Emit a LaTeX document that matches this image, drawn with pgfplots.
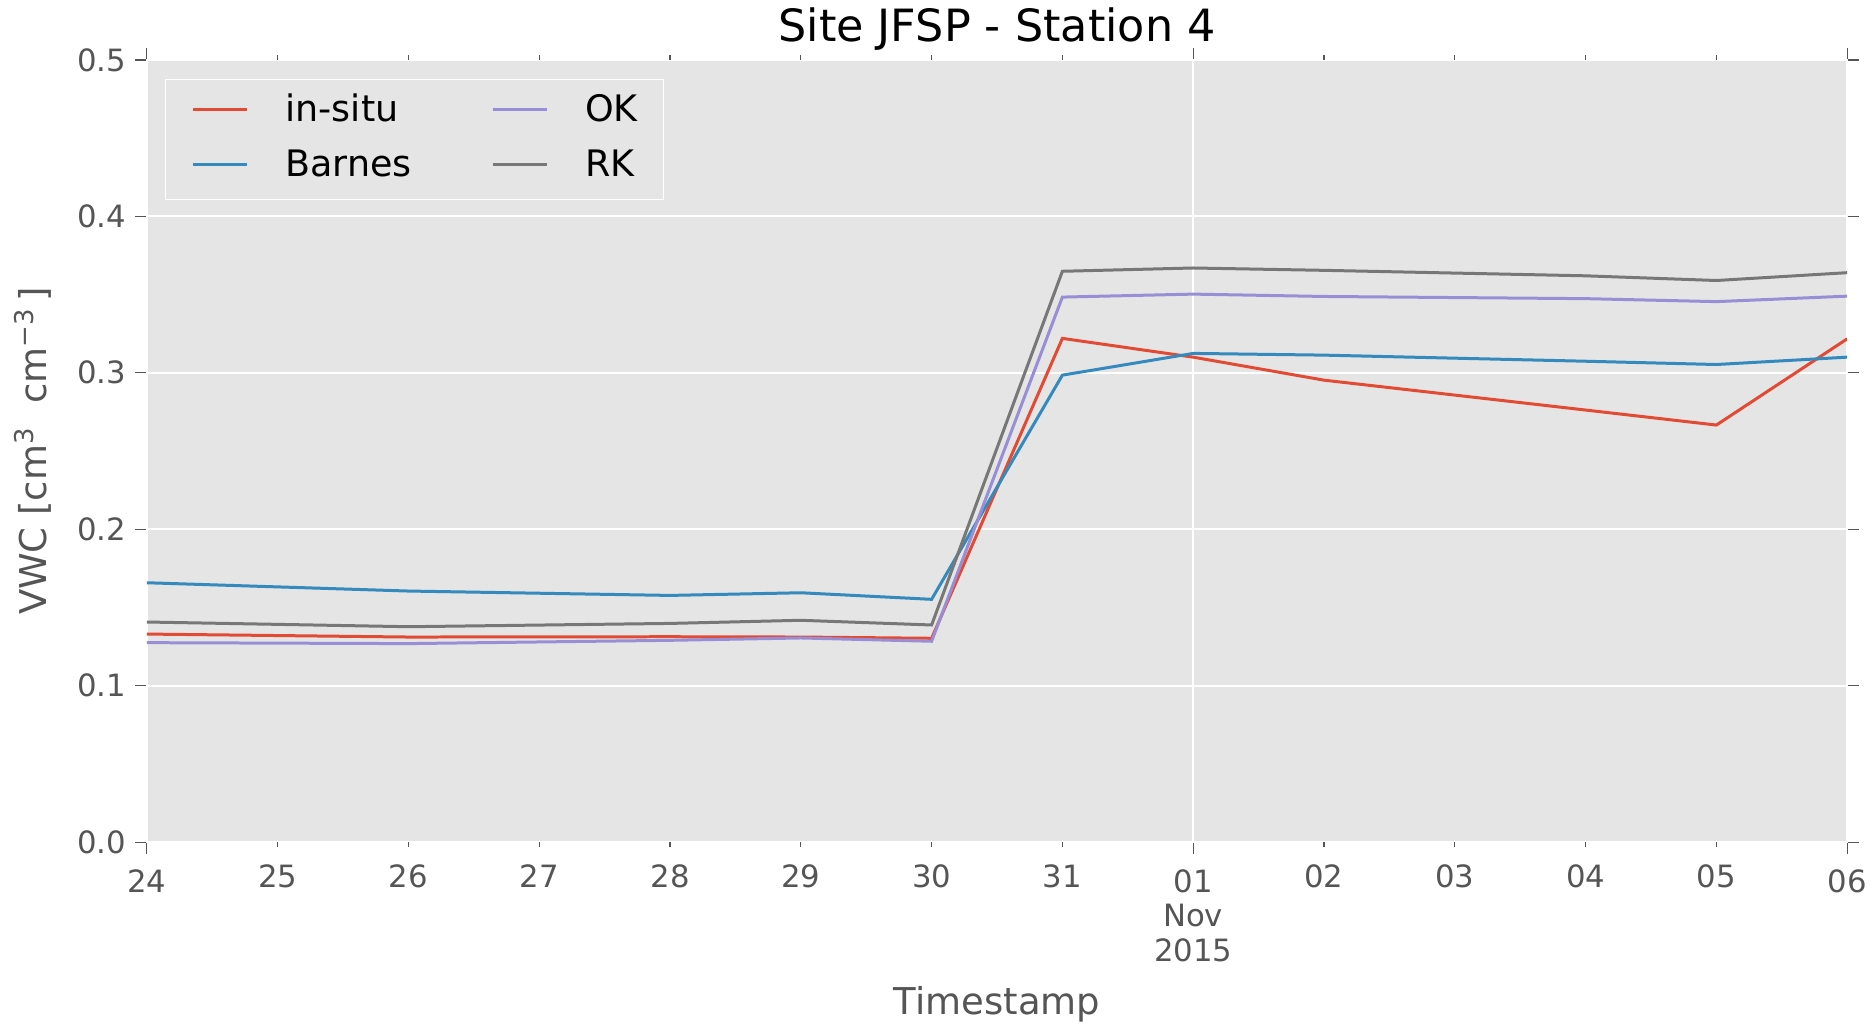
\documentclass[border=0pt]{standalone}
\usepackage{fontspec}
\setmainfont{DejaVu Sans}
\usepackage{pgfplots}
\pgfplotsset{compat=1.18}
\definecolor{axbg}{HTML}{E5E5E5}
\definecolor{cred}{HTML}{E24A33}
\definecolor{cblue}{HTML}{348ABD}
\definecolor{cpurple}{HTML}{988ED5}
\definecolor{cgray}{HTML}{777777}
\definecolor{tickgray}{HTML}{555555}
\begin{document}
\begin{tikzpicture}
\begin{axis}[
  scale only axis, width=680.8pt, height=313.2pt,
  xmin=0, xmax=13, ymin=0, ymax=0.5,
  axis background/.style={fill=axbg},
  axis line style={draw=white, line width=0.8pt},
  tick align=outside,
  major tick length=4.7pt,
  every tick/.style={draw=tickgray, line width=0.5pt},
  xtick={0,8,13},
  xticklabels={24,{01\\Nov\\2015},06},
  xticklabel style={align=center, font=\fontsize{12.3}{13.8}\selectfont, text=tickgray, yshift=-2.8pt},
  extra x ticks={1,2,3,4,5,6,7,9,10,11,12},
  extra x tick labels={25,26,27,28,29,30,31,02,03,04,05},
  extra x tick style={major tick length=2pt, grid=none, xticklabel style={yshift=-0.8pt}},
  xmajorgrids, ymajorgrids,
  grid style={white, line width=0.8pt},
  ytick={0,0.1,0.2,0.3,0.4,0.5},
  yticklabel style={/pgf/number format/.cd, fixed, fixed zerofill, precision=1, /tikz/.cd, font=\fontsize{12.3}{14}\selectfont, text=tickgray},
  /pgf/number format/assume math mode=true,
  title={Site JFSP - Station 4},
  title style={at={(axis description cs:0.5,1)}, anchor=base, yshift=1.5pt, inner sep=0pt, font=\fontsize{17.8}{20}\selectfont, text=black},
  xlabel={Timestamp},
  xlabel style={at={(axis description cs:0.5,0)}, anchor=base, yshift=-69.2pt, inner sep=0pt, font=\fontsize{14.8}{17}\selectfont, text=tickgray},
  ylabel={VWC [cm\textsuperscript{3}\ \ cm\textsuperscript{−3}\,]},
  ylabel style={at={(axis description cs:0,0.5)}, anchor=base, yshift=40pt, inner sep=0pt, font=\fontsize{14.8}{17}\selectfont, text=tickgray},
  legend style={at={(axis description cs:0,1)}, anchor=north west, xshift=7.2pt, yshift=-7.6pt,
    fill=axbg, draw=white, line width=0.6pt, font=\fontsize{14.6}{16}\selectfont, text=black,
    inner xsep=10.4pt, inner ysep=6.1pt, row sep=8.3pt,
    nodes={inner sep=0pt, text height=10.6pt, text depth=3.1pt},
    /tikz/every odd column/.append style={column sep=14.8pt},
    /tikz/every even column/.append style={column sep=31.8pt}},
  legend columns=2, transpose legend, legend cell align=left,
  legend image code/.code={\path (0pt,0pt); \draw[#1, line width=1.2pt] (0pt,1pt) -- (21.6pt,1pt);},
]
\addplot[cred, line width=1.2pt] coordinates {
  (0,0.1330) (2,0.1311) (4,0.1313) (5,0.1311) (6,0.1303) (7,0.3220)
  (8,0.3100) (9,0.2953) (11,0.2762) (12,0.2666) (13,0.3217)};
\addlegendentry{in-situ}
\addplot[cblue, line width=1.2pt] coordinates {
  (0,0.1658) (2,0.1605) (4,0.1577) (5,0.1594) (6,0.1552) (7,0.2985)
  (8,0.3124) (9,0.3113) (11,0.3074) (12,0.3053) (13,0.3100)};
\addlegendentry{Barnes}
\addplot[cpurple, line width=1.2pt] coordinates {
  (0,0.1275) (2,0.1269) (4,0.1290) (5,0.1305) (6,0.1284) (7,0.3484)
  (8,0.3503) (9,0.3488) (11,0.3474) (12,0.3455) (13,0.3490)};
\addlegendentry{OK}
\addplot[cgray, line width=1.2pt] coordinates {
  (0,0.1407) (2,0.1377) (4,0.1398) (5,0.1418) (6,0.1388) (7,0.3649)
  (8,0.3670) (9,0.3655) (11,0.3620) (12,0.3590) (13,0.3640)};
\addlegendentry{RK}
\end{axis}
\path (current axis.south west) +(-58.8pt,-72.8pt);
\path (current axis.north east) +(10.4pt,24pt);
\end{tikzpicture}
\end{document}
